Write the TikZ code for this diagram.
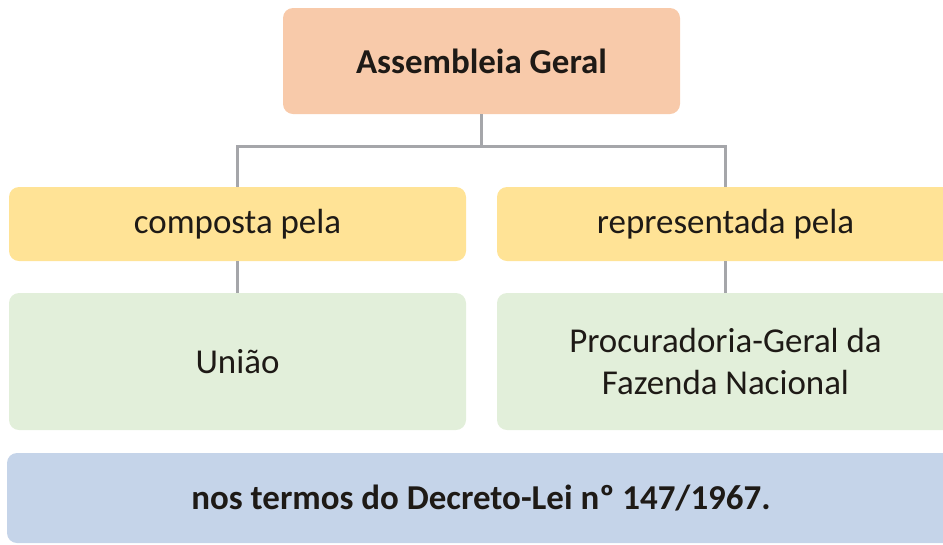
\documentclass[tikz,border=0pt]{standalone}
\usepackage{fontspec}
\setmainfont{Carlito}
\definecolor{topc}{HTML}{F8CAAA}
\definecolor{yelc}{HTML}{FFE396}
\definecolor{grnc}{HTML}{E2EFDA}
\definecolor{bluc}{HTML}{C5D4E9}
\definecolor{linc}{HTML}{A5A6AA}
\definecolor{txtc}{HTML}{1E1A16}
\begin{document}
\begin{tikzpicture}[x=0.75pt,y=-0.75pt,
  box/.style={rectangle, rounded corners=7.5pt, inner sep=0pt, align=center,
    text=txtc, font=\fontsize{26.2}{31.5}\selectfont},
  bbox/.style={box, font=\fontsize{26.2}{31.5}\selectfont\bfseries},
  conn/.style={draw=linc, line width=2.25pt}]
\useasboundingbox (0,0) rectangle (943,544);
\clip (0,0) rectangle (943,544);
\node[bbox, fill=topc, minimum width=297.75pt, minimum height=79.5pt] (top) at (481.5,61) {Assembleia Geral};
\node[box, fill=yelc, minimum width=342.75pt, minimum height=55.5pt] (yl) at (237.5,224) {composta pela};
\node[box, fill=yelc, minimum width=342.75pt, minimum height=55.5pt] (yr) at (725.5,224) {representada pela};
\node[box, fill=grnc, minimum width=342.75pt, minimum height=102.75pt] (gl) at (237.5,361.5) {União};
\node[box, fill=grnc, minimum width=342.75pt, minimum height=102.75pt] (gr) at (725.5,361.5) {Procuradoria-Geral da\\Fazenda Nacional};
\node[bbox, fill=bluc, minimum width=711pt, minimum height=67.5pt] (bt) at (481,498) {nos termos do Decreto-Lei nº 147/1967.};
\coordinate (bus) at (481.5,146);
\draw[conn] (top.south) -- (bus);
\draw[conn] (bus) -| (yl.north);
\draw[conn] (bus) -| (yr.north);
\draw[conn] (yl.south) -- (gl.north);
\draw[conn] (yr.south) -- (gr.north);
\end{tikzpicture}
\end{document}
